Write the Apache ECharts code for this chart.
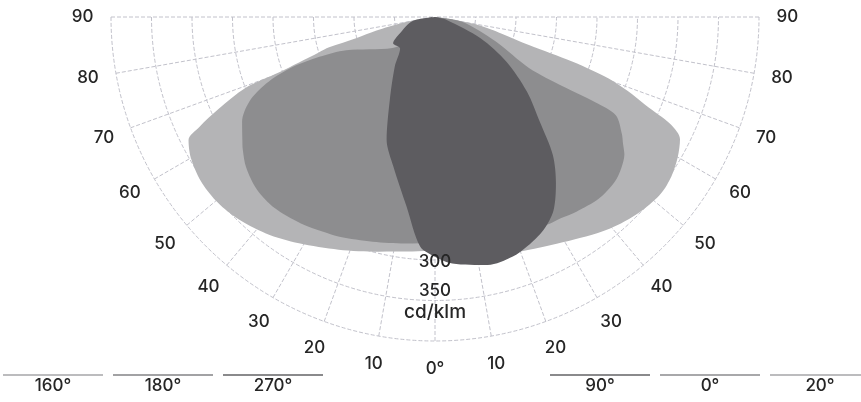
<!DOCTYPE html>
<html>
<head>
<meta charset="utf-8">
<script src="https://cdn.jsdelivr.net/npm/echarts@6/dist/echarts.min.js"></script>
<style>
  html, body { margin: 0; padding: 0; background: #fff; }
  #chart { width: 861px; height: 402px; }
</style>
</head>
<body>
<div id="chart"></div>
<script>
// Luminous intensity distribution, cd/klm, as [gamma angle (deg), value].
// Negative angles are drawn on the left half, positive on the right half.
const c160 = [[-84, 0], [-80, 40], [-77, 75], [-75, 100], [-74, 136], [-73, 150], [-71.5, 177], [-70.5, 204],
  [-69.5, 250], [-67, 290], [-65, 321], [-63.5, 340], [-60, 348], [-55, 353], [-50, 353], [-45, 349],
  [-38, 339], [-31, 326], [-22.5, 311], [-13.5, 298], [-5.5, 291], [0, 288]];
const c20 = [[0, 288], [8, 297], [15, 304], [22, 310], [27, 316], [32, 324], [37, 334], [42, 343],
  [47, 350], [52, 354], [56, 352], [60, 346], [63.5, 338], [65.5, 320], [67.3, 282],
  [69, 255], [70.5, 228], [72, 178], [73.4, 121], [76, 85], [80, 50], [84, 0]];

const c180 = [[-40, 0], [-45, 30], [-54, 65], [-69.5, 117], [-71, 151], [-70.5, 191], [-68.5, 224],
  [-65.5, 252], [-61.5, 271], [-57.5, 282], [-55.5, 288], [-51.5, 298], [-46, 306], [-40, 308],
  [-33, 304], [-27.5, 299], [-23.5, 296], [-15.5, 288], [-7.5, 282], [0, 279]];
const c0 = [[0, 279], [10, 283], [20, 288], [29, 292], [32, 293], [36, 297], [42, 302], [47.5, 301],
  [51, 296], [54, 289], [56, 280], [58, 272], [61.5, 254], [62, 224], [61.5, 180], [61.5, 132],
  [68, 81], [80, 34], [84, 0]];

const c270 = [[-90, 0], [-80, 28], [-65, 48], [-58, 61], [-48, 58], [-39, 79], [-28.5, 117], [-21.5, 163],
  [-15.5, 192], [-8.5, 237], [-3.7, 284], [0, 296]];
const c90 = [[0, 296], [4, 305], [12, 313], [18, 311], [22, 305], [27, 295], [31.5, 280], [36, 254],
  [40.5, 224], [45, 183], [51, 146], [58, 104], [65, 62], [76, 15], [90, 0]];

const angleTicks = [-90, -80, -70, -60, -50, -40, -30, -20, -10, 0, 10, 20, 30, 40, 50, 60, 70, 80, 90];
const radiusLabels = [300, 350];
const unitLabel = 'cd/klm';
const legendLeft = ['160°', '180°', '270°'];
const legendRight = ['90°', '0°', '20°'];

const LIGHT = '#b4b4b6';
const MEDIUM = '#8d8d8f';
const DARK = '#5d5c60';
const GRID = '#c2c2cb';
const TEXT = '#262626';
const FONT = 'Inter';
const LABEL_RADIUS = 435; // angle labels sit just outside the 400 cd/klm ring

// Join the two half-planes into one outline and switch to [radius, angle]
function plane(left, right) {
  return left.concat(right.slice(1)).map(function (p) { return [p[1], p[0]]; });
}

function planeSeries(name, left, right, color, z) {
  return {
    type: 'line',
    name: name,
    coordinateSystem: 'polar',
    data: plane(left, right),
    showSymbol: false,
    smooth: 0.3,
    silent: true,
    lineStyle: { width: 0 },
    areaStyle: { color: color, opacity: 1 },
    z: z
  };
}

const legendColors = { '160°': '#bcbcbe', '180°': '#a2a2a4', '270°': '#8a8a8c',
  '90°': '#8a8a8c', '0°': '#a8a8aa', '20°': '#bcbcbe' };

function legendGraphics() {
  const out = [];
  const groups = [[legendLeft, 3], [legendRight, 550]];
  groups.forEach(function (g) {
    g[0].forEach(function (name, i) {
      const x0 = g[1] + i * 110;
      out.push({
        type: 'line',
        shape: { x1: x0, y1: 375, x2: x0 + 100, y2: 375 },
        style: { stroke: legendColors[name], lineWidth: 2 },
        silent: true
      });
      out.push({
        type: 'text',
        x: x0 + 50, y: 386,
        style: { text: name, align: 'center', verticalAlign: 'middle',
          fontFamily: FONT, fontSize: 17, fontWeight: 500, fill: TEXT },
        silent: true
      });
    });
  });
  return out;
}

const chart = echarts.init(document.getElementById('chart'), null, { renderer: 'canvas' });

chart.setOption({
  animation: false,
  backgroundColor: '#ffffff',
  polar: { center: [435, 17], radius: 324 },
  angleAxis: {
    type: 'value',
    min: -90,
    max: 90,
    interval: 10,
    startAngle: 180,
    endAngle: 360,
    clockwise: false,
    axisLine: { show: false },
    axisTick: { show: false },
    axisLabel: { show: false },
    splitLine: { show: true, lineStyle: { color: GRID, width: 1, type: [4, 2] } }
  },
  radiusAxis: {
    type: 'value',
    min: 0,
    max: 400,
    interval: 50,
    axisLine: { show: false },
    axisTick: { show: false },
    axisLabel: { show: false },
    splitLine: { show: true, lineStyle: { color: GRID, width: 1, type: [4, 2] } }
  },
  series: [
    planeSeries('C160 / C20', c160, c20, LIGHT, 2),
    planeSeries('C180 / C0', c180, c0, MEDIUM, 3),
    planeSeries('C270 / C90', c270, c90, DARK, 4),
    {
      type: 'scatter',
      coordinateSystem: 'polar',
      symbolSize: 0,
      silent: true,
      z: 5,
      itemStyle: { opacity: 1 },
      data: radiusLabels.map(function (v, i) {
        const last = i === radiusLabels.length - 1;
        return {
          value: [v, 0],
          label: {
            show: true,
            position: 'inside',
            offset: last ? [0, 1] : [0, 2],
            formatter: last ? '{v|' + v + '}\n{u|' + unitLabel + '}' : String(v),
            fontFamily: FONT,
            fontSize: 17,
            fontWeight: 500,
            color: TEXT,
            opacity: 1,
            textBorderWidth: 0,
            textBorderColor: 'transparent',
            lineHeight: 22,
            rich: {
              v: { fontFamily: FONT, fontSize: 17, fontWeight: 500, color: TEXT, lineHeight: 22,
                textBorderWidth: 0, textBorderColor: 'transparent' },
              u: { fontFamily: FONT, fontSize: 19, fontWeight: 500, color: TEXT, lineHeight: 22,
                textBorderWidth: 0, textBorderColor: 'transparent' }
            }
          }
        };
      })
    }
  ]
});

// Angle labels centred on a ring just outside the grid, placed through the polar scale
const angleLabels = angleTicks.map(function (a) {
  const p = chart.convertToPixel({ polarIndex: 0 }, [LABEL_RADIUS, a]);
  return {
    type: 'text',
    x: p[0], y: p[1],
    style: { text: a === 0 ? '0°' : String(Math.abs(a)), align: 'center', verticalAlign: 'middle',
      fontFamily: FONT, fontSize: 17, fontWeight: 500, fill: TEXT },
    silent: true
  };
});

chart.setOption({ graphic: legendGraphics().concat(angleLabels) });
</script>
</body>
</html>
